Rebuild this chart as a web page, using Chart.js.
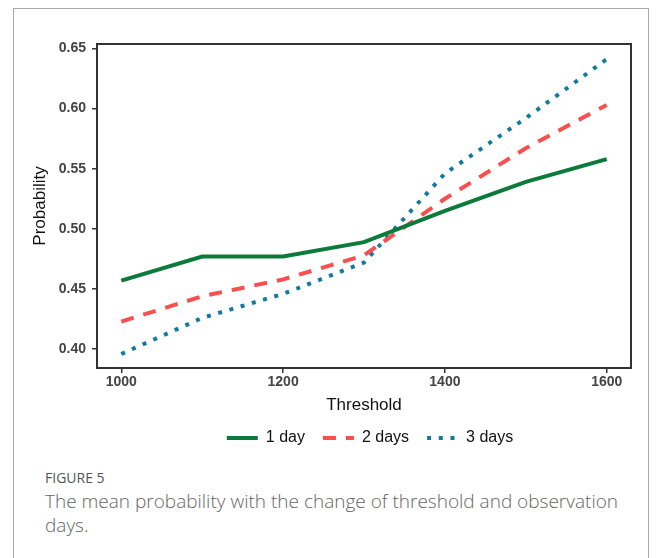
<!DOCTYPE html>
<html>
<head>
<meta charset="utf-8">
<script src="https://cdn.jsdelivr.net/npm/chart.js@4.4.1/dist/chart.umd.min.js"></script>
<style>
  body { margin: 0; background: #fff; width: 656px; height: 558px; overflow: hidden; position: relative; }
  #frame { position: absolute; left: 13px; top: 8px; width: 634px; height: 620px; border: 1.5px solid #a9a9a9; border-bottom: none; }
  #wrap { position: absolute; left: 0; top: 0; width: 656px; height: 467px; }
  #cap { position: absolute; left: 45px; top: 467px; width: 590px; font-family: "Open Sans", sans-serif; color: #666; }
  #cap .fig { font-size: 14px; color: #555; line-height: 22px; }
  #cap .txt { font-size: 19px; line-height: 24px; font-weight: 300; }
</style>
</head>
<body>
<div id="frame"></div>
<div id="wrap"><canvas id="probChart" width="656" height="467"></canvas></div>
<div id="cap">
  <div class="fig">FIGURE 5</div>
  <div class="txt">The mean probability with the change of threshold and observation days.</div>
</div>
<script>
// threshold values and mean probability per observation window
const thresholds = [1000, 1100, 1200, 1300, 1400, 1500, 1600];
const oneDay    = [0.457, 0.477, 0.477, 0.489, 0.515, 0.539, 0.558];
const twoDays   = [0.423, 0.444, 0.458, 0.478, 0.525, 0.567, 0.603];
const threeDays = [0.396, 0.426, 0.446, 0.472, 0.546, 0.592, 0.641];
const seriesNames = ['1 day', '2 days', '3 days'];
const xTicks = [1000, 1200, 1400, 1600];
const yTicks = [0.40, 0.45, 0.50, 0.55, 0.60, 0.65];

const toPoints = (vals) => thresholds.map((t, i) => ({ x: t, y: vals[i] }));

// frame around the plotting panel
const panelBorder = {
    id: 'panelBorder',
    afterDatasetsDraw(chart) {
        const { ctx, chartArea: a } = chart;
        ctx.save();
        ctx.strokeStyle = '#333';
        ctx.lineWidth = 2;
        ctx.strokeRect(a.left, a.top, a.right - a.left, a.bottom - a.top);
        ctx.restore();
    }
};

// nudge legend under the panel centre
const legendShift = {
    id: 'legendShift',
    afterLayout(chart) {
        const lg = chart.legend;
        lg.left += 6; lg.right += 6;
        lg.top -= 11; lg.bottom -= 11;
    }
};

const tickFont = { family: 'Liberation Sans', size: 14, weight: 'bold' };
const titleFont = { family: 'Liberation Sans', size: 17 };
const legendFont = { family: 'Liberation Sans', size: 16 };

new Chart(document.getElementById('probChart').getContext('2d'), {
    type: 'line',
    data: {
        datasets: [
            { label: seriesNames[0], data: toPoints(oneDay), borderColor: '#0b7a3b', backgroundColor: '#0b7a3b', borderWidth: 4, borderDash: [] },
            { label: seriesNames[1], data: toPoints(twoDays), borderColor: '#fb4e4e', backgroundColor: '#fb4e4e', borderWidth: 4, borderDash: [13, 10] },
            { label: seriesNames[2], data: toPoints(threeDays), borderColor: '#137a9f', backgroundColor: '#137a9f', borderWidth: 4, borderDash: [4, 7.7] }
        ]
    },
    options: {
        responsive: false,
        animation: false,
        events: [],
        elements: { point: { radius: 0 }, line: { tension: 0, borderCapStyle: 'butt' } },
        layout: { padding: { top: 44, right: 25, left: 0, bottom: 0 } },
        scales: {
            x: {
                type: 'linear',
                min: 970, max: 1630,
                afterBuildTicks: s => { s.ticks = xTicks.map(v => ({ value: v })); },
                afterFit: s => { s.height = 55; },
                border: { display: false },
                grid: { drawOnChartArea: false, drawTicks: true, tickLength: 5, color: '#333', lineWidth: 1.5 },
                ticks: { font: tickFont, color: '#444', padding: 1, maxRotation: 0, callback: v => String(v) },
                title: { display: true, text: 'Threshold', font: titleFont, color: '#111', padding: { bottom: 7 } }
            },
            y: {
                min: 0.3844, max: 0.6536,
                afterBuildTicks: s => { s.ticks = yTicks.map(v => ({ value: v })); },
                afterFit: s => { s.width = 97; },
                border: { display: false },
                grid: { drawOnChartArea: false, drawTicks: true, tickLength: 5, color: '#333', lineWidth: 1.5 },
                ticks: { font: tickFont, color: '#444', padding: 6, callback: v => v.toFixed(2) },
                title: { display: true, text: 'Probability', font: titleFont, color: '#111', padding: { top: 30 } }
            }
        },
        plugins: {
            tooltip: { enabled: false },
            legend: {
                position: 'bottom',
                fullSize: false,
                labels: {
                    usePointStyle: true,
                    pointStyle: 'line',
                    pointStyleWidth: 31,
                    padding: 18,
                    color: '#111',
                    font: legendFont,
                    generateLabels: (chart) => chart.data.datasets.map((ds, i) => ({
                        text: ds.label,
                        datasetIndex: i,
                        fillStyle: ds.borderColor,
                        strokeStyle: ds.borderColor,
                        fontColor: '#111',
                        lineWidth: ds.borderWidth,
                        lineDash: ds.borderDash,
                        lineCap: 'butt',
                        pointStyle: 'line',
                        hidden: false
                    }))
                }
            }
        }
    },
    plugins: [panelBorder, legendShift]
});
</script>
</body>
</html>
